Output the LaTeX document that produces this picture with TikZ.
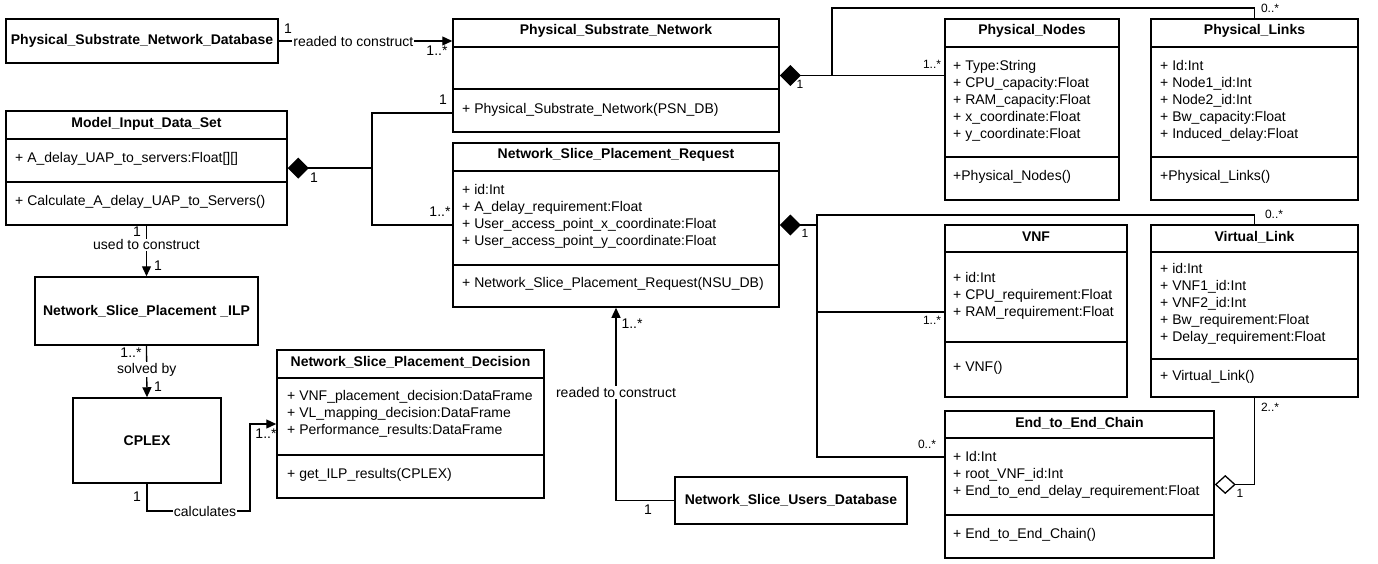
\documentclass[tikz,border=0pt]{standalone}
\usepackage{fontspec}
\setmainfont{Liberation Sans}
\usetikzlibrary{arrows.meta}

\tikzset{
  classbox/.style={draw, line width=1.5pt, inner sep=0pt},
  cdiv/.style={line width=1.5pt},
  head/.style={font=\fontsize{14}{17}\selectfont\bfseries, inner sep=0pt},
  attr/.style={font=\fontsize{14}{17}\selectfont, inner sep=0pt, anchor=west, align=left},
  link/.style={line width=1.3pt},
  lbl/.style={font=\fontsize{14}{17}\selectfont, fill=white, inner sep=1pt},
  mult/.style={font=\fontsize{14}{17}\selectfont, inner sep=0pt},
  smult/.style={font=\fontsize{12}{14}\selectfont, inner sep=0pt},
  navig/.style={-{Triangle[length=10pt,width=9pt]}},
  compo/.style={{Diamond[length=21pt,width=21pt]}-},
  aggreg/.style={{Diamond[open,length=21pt,width=19pt]}-},
}

\begin{document}
\begin{tikzpicture}[x=1pt,y=-1pt]
  \useasboundingbox (0,0) rectangle (1378,563);

  % databases and solver boxes
  \node[classbox, head, minimum width=272, minimum height=44] (psndb) at (142,41) {Physical\_Substrate\_Network\_Database};
  \node[classbox, head, minimum width=223, minimum height=68] (ilp) at (146.5,311) {Network\_Slice\_Placement \_ILP};
  \node[classbox, head, minimum width=148, minimum height=85] (cplex) at (147,440.5) {CPLEX};
  \node[classbox, head, minimum width=232, minimum height=47] (nsud) at (791,500.5) {Network\_Slice\_Users\_Database};

  % Physical_Substrate_Network
  \node[classbox, minimum width=326, minimum height=113] (psn) at (616,75.5) {};
  \draw[cdiv] (psn.west |- 0,47) -- (psn.east |- 0,47);
  \draw[cdiv] (psn.west |- 0,89) -- (psn.east |- 0,89);
  \node[head] (psn-h) at (616,31) {Physical\_Substrate\_Network};
  \node[attr] (psn-m) at (462,110) {+ Physical\_Substrate\_Network(PSN\_DB)};

  % Model_Input_Data_Set
  \node[classbox, minimum width=281, minimum height=114] (mids) at (146.5,168) {};
  \draw[cdiv] (mids.west |- 0,139) -- (mids.east |- 0,139);
  \draw[cdiv] (mids.west |- 0,182) -- (mids.east |- 0,182);
  \node[head] (mids-h) at (146.5,124) {Model\_Input\_Data\_Set};
  \node[attr] (mids-a) at (15,159) {+ A\_delay\_UAP\_to\_servers:Float[][]};
  \node[attr] (mids-m) at (15,202) {+ Calculate\_A\_delay\_UAP\_to\_Servers()};

  % Network_Slice_Placement_Request
  \node[classbox, minimum width=326, minimum height=164] (nspr) at (616,225) {};
  \draw[cdiv] (nspr.west |- 0,171) -- (nspr.east |- 0,171);
  \draw[cdiv] (nspr.west |- 0,265) -- (nspr.east |- 0,265);
  \node[head] (nspr-h) at (616,155) {Network\_Slice\_Placement\_Request};
  \node[attr] (nspr-a) at (462,216.5) {+ id:Int\\+ A\_delay\_requirement:Float\\+ User\_access\_point\_x\_coordinate:Float\\+ User\_access\_point\_y\_coordinate:Float};
  \node[attr] (nspr-m) at (462,284) {+ Network\_Slice\_Placement\_Request(NSU\_DB)};

  % Network_Slice_Placement_Decision
  \node[classbox, minimum width=267, minimum height=148] (nspd) at (410.5,424) {};
  \draw[cdiv] (nspd.west |- 0,378) -- (nspd.east |- 0,378);
  \draw[cdiv] (nspd.west |- 0,455) -- (nspd.east |- 0,455);
  \node[head] (nspd-h) at (410.5,362) {Network\_Slice\_Placement\_Decision};
  \node[attr] (nspd-a) at (287,414) {+ VNF\_placement\_decision:DataFrame\\+ VL\_mapping\_decision:DataFrame\\+ Performance\_results:DataFrame};
  \node[attr] (nspd-m) at (287,475) {+ get\_ILP\_results(CPLEX)};

  % Physical_Nodes / Physical_Links
  \node[classbox, minimum width=174, minimum height=181] (pnodes) at (1032,109.5) {};
  \draw[cdiv] (pnodes.west |- 0,47) -- (pnodes.east |- 0,47);
  \draw[cdiv] (pnodes.west |- 0,157) -- (pnodes.east |- 0,157);
  \node[head] (pnodes-h) at (1032,31) {Physical\_Nodes};
  \node[attr] (pnodes-a) at (953,101) {+ Type:String\\+ CPU\_capacity:Float\\+ RAM\_capacity:Float\\+ x\_coordinate:Float\\+ y\_coordinate:Float};
  \node[attr] (pnodes-m) at (953,177) {+Physical\_Nodes()};

  \node[classbox, minimum width=207, minimum height=181] (plinks) at (1254.5,109.5) {};
  \draw[cdiv] (plinks.west |- 0,47) -- (plinks.east |- 0,47);
  \draw[cdiv] (plinks.west |- 0,157) -- (plinks.east |- 0,157);
  \node[head] (plinks-h) at (1254.5,31) {Physical\_Links};
  \node[attr] (plinks-a) at (1160,101) {+ Id:Int\\+ Node1\_id:Int\\+ Node2\_id:Int\\+ Bw\_capacity:Float\\+ Induced\_delay:Float};
  \node[attr] (plinks-m) at (1160,177) {+Physical\_Links()};

  % VNF / Virtual_Link / End_to_End_Chain
  \node[classbox, minimum width=182, minimum height=172] (vnf) at (1036,311) {};
  \draw[cdiv] (vnf.west |- 0,252) -- (vnf.east |- 0,252);
  \draw[cdiv] (vnf.west |- 0,342) -- (vnf.east |- 0,342);
  \node[head] (vnf-h) at (1036,237) {VNF};
  \node[attr] (vnf-a) at (953,296) {+ id:Int\\+ CPU\_requirement:Float\\+ RAM\_requirement:Float};
  \node[attr] (vnf-m) at (953,368) {+ VNF()};

  \node[classbox, minimum width=207, minimum height=172] (vlink) at (1254.5,311) {};
  \draw[cdiv] (vlink.west |- 0,252) -- (vlink.east |- 0,252);
  \draw[cdiv] (vlink.west |- 0,359) -- (vlink.east |- 0,359);
  \node[head] (vlink-h) at (1254.5,237) {Virtual\_Link};
  \node[attr] (vlink-a) at (1160,304) {+ id:Int\\+ VNF1\_id:Int\\+ VNF2\_id:Int\\+ Bw\_requirement:Float\\+ Delay\_requirement:Float};
  \node[attr] (vlink-m) at (1160,377) {+ Virtual\_Link()};

  \node[classbox, minimum width=269, minimum height=147] (e2e) at (1079.5,484.5) {};
  \draw[cdiv] (e2e.west |- 0,438) -- (e2e.east |- 0,438);
  \draw[cdiv] (e2e.west |- 0,515) -- (e2e.east |- 0,515);
  \node[head] (e2e-h) at (1079.5,423) {End\_to\_End\_Chain};
  \node[attr] (e2e-a) at (953,475) {+ Id:Int\\+ root\_VNF\_id:Int\\+ End\_to\_end\_delay\_requirement:Float};
  \node[attr] (e2e-m) at (953,535) {+ End\_to\_End\_Chain()};

  % junctions
  \coordinate (jm) at (372,168);
  \coordinate (jn) at (832,75.5);
  \coordinate (jr) at (817,225);
  \coordinate (jc) at (250,511);

  % associations
  \draw[link, navig] (psndb.east) -- (psndb.east -| psn.west)
    node[lbl, pos=0.43] (l-psndb) {readed to construct};
  \draw[link, navig] (mids.south) -- (ilp.north)
    node[lbl, pos=0.38] (l-mids) {used to construct};
  \draw[link, navig] (ilp.south) -- (cplex.north)
    node[lbl, pos=0.47] (l-ilp) {solved by};
  \draw[link, navig] (cplex.south) |- (jc) |- (nspd.west);
  \node[lbl] (l-cplex) at (205,511) {calculates};
  \draw[link, navig] (nsud.west) -| (nspr.south)
    node[lbl, pos=0.78] (l-nsud) {readed to construct};

  % compositions
  \draw[link, compo] (mids.east) -- (jm);
  \draw[link] (jm) |- (psn.west |- 0,113);
  \draw[link] (jm) |- (nspr.west);
  \draw[link, compo] (psn.east) -- (pnodes.west |- psn.east);
  \draw[link] (jn) |- (plinks.north |- 0,8) -- (plinks.north);
  \draw[link, compo] (nspr.east) -- (jr);
  \draw[link] (jr) -- (jr |- 0,215) -| (vlink.north);
  \draw[link] (jr |- 0,215) |- (vnf.west |- 0,312);
  \draw[link] (jr) |- (e2e.west |- 0,457);
  \draw[link, aggreg] (e2e.east) -| (vlink.south);

  % multiplicities
  \node[mult] (m1) at (288,29) {1};
  \node[mult] (m2) at (437,51) {1..*};
  \node[mult] (m3) at (443,100) {1};
  \node[mult] (m4) at (440,212) {1..*};
  \node[mult] (m5) at (314,178) {1};
  \node[mult] (m6) at (137,232) {1};
  \node[mult] (m7) at (158,266) {1};
  \node[mult] (m8) at (131,353) {1..*};
  \node[mult] (m9) at (158,387) {1};
  \node[mult] (m10) at (137,497) {1};
  \node[mult] (m11) at (266,434) {1..*};
  \node[mult] (m12) at (632,324) {1..*};
  \node[mult] (m13) at (648,510) {1};
  \node[smult] (s1) at (800,84) {1};
  \node[smult] (s2) at (932,64) {1..*};
  \node[smult] (s3) at (1270,8) {0..*};
  \node[smult] (s4) at (805,233) {1};
  \node[smult] (s5) at (1274,214) {0..*};
  \node[smult] (s6) at (932,320) {1..*};
  \node[smult] (s7) at (927,444) {0..*};
  \node[smult] (s8) at (1270,407) {2..*};
  \node[smult] (s9) at (1240,493) {1};
\end{tikzpicture}
\end{document}
